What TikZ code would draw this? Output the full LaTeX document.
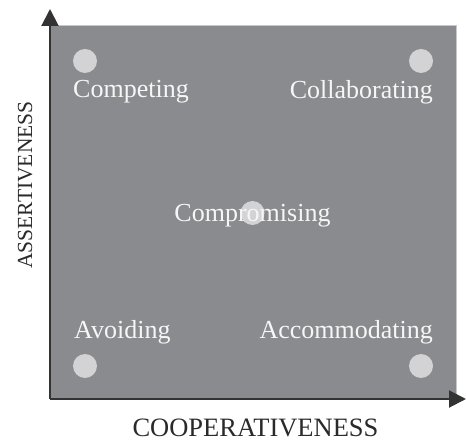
\documentclass[tikz,border=0pt]{standalone}
\usepackage{fontspec}
\setmainfont{Liberation Serif}
\usetikzlibrary{arrows.meta}
\definecolor{panel}{HTML}{8A8B8F}
\definecolor{paneledge}{HTML}{C8C8CA}
\definecolor{dotfill}{HTML}{D3D3D5}
\definecolor{axisink}{HTML}{333333}
\definecolor{labelink}{HTML}{F6F6F6}
\definecolor{titleink}{HTML}{2A2A2A}
\begin{document}
\begin{tikzpicture}[x=1pt,y=-1pt,
  mode/.style={text=labelink,inner sep=0pt,font=\fontsize{26}{31}\selectfont},
  axistitle/.style={text=titleink,inner sep=0pt},
  spot/.style={circle,fill=dotfill,inner sep=0pt,minimum size=24pt},
  axisline/.style={draw=axisink,line width=2pt,-{Triangle[length=17pt,width=17pt]}}]
\useasboundingbox (0,0) rectangle (466,443);

% grey field of the grid
\fill[panel] (50,25) rectangle (456,399);
\draw[paneledge,line width=0.8pt] (50,25) -- (456,25) -- (456,399);

% the five conflict styles
\node[spot] (d1) at (85,61) {};
\node[spot] (d2) at (421,61) {};
\node[spot] (d3) at (85,366) {};
\node[spot] (d4) at (421,366) {};
\node[spot] (d5) at (252.5,213) {};

\node[mode,anchor=base west] (competing) at (73,98) {Competing};
\node[mode,anchor=base east] (collab) at (433,99) {Collaborating};
\node[mode,anchor=base] (compromise) at (252.5,222) {Compromising};
\node[mode,anchor=base west] (avoid) at (74,339) {Avoiding};
\node[mode,anchor=base east] (accom) at (433,339) {Accommodating};

% axes
\coordinate (O) at (50,399);
\coordinate (ytip) at (50,9);
\coordinate (xtip) at (466,399);
\draw[axisline] (O) -- (ytip);
\draw[axisline] (O) -- (xtip);

\node[axistitle,anchor=base,font=\fontsize{26.5}{31}\selectfont] (coop) at (255.5,437) {COOPERATIVENESS};
\node[axistitle,anchor=base,rotate=90,font=\fontsize{21.5}{26}\selectfont] (assert) at (32,185) {ASSERTIVENESS};
\end{tikzpicture}
\end{document}
